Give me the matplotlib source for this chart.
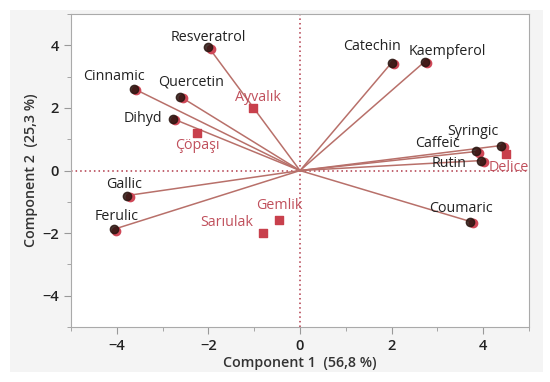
import matplotlib.pyplot as plt
from matplotlib.patches import Rectangle

plt.rcParams['font.family'] = ['Open Sans', 'DejaVu Sans']

# loadings (variables)
variables = ["Resveratrol", "Cinnamic", "Quercetin", "Dihyd", "Gallic", "Ferulic",
             "Catechin", "Kaempferol", "Syringic", "Caffeic", "Rutin", "Coumaric"]
var_x = [-2.0, -3.63, -2.61, -2.78, -3.78, -4.07, 2.0, 2.72, 4.39, 3.85, 3.96, 3.72]
var_y = [3.95, 2.62, 2.36, 1.66, -0.80, -1.88, 3.45, 3.48, 0.80, 0.61, 0.32, -1.63]

# scores (cultivars)
cultivars = ["Ayvalık", "Çöpaşı", "Sarıulak", "Gemlik", "Delice"]
cult_x = [-1.02, -2.24, -0.80, -0.46, 4.50]
cult_y = [2.00, 1.21, -1.98, -1.57, 0.54]

# label offsets in pixels (dx, dy, ha)
var_lab = {
    "Resveratrol": (0, 9, "center"), "Cinnamic": (-20, 12, "center"),
    "Quercetin": (11, 15, "center"), "Dihyd": (-11, 0, "right"),
    "Gallic": (-3, 11, "center"), "Ferulic": (3, 13, "center"),
    "Catechin": (-20, 16, "center"), "Kaempferol": (23, 10, "center"),
    "Syringic": (-28, 14, "center"), "Caffeic": (-39, 8, "center"),
    "Rutin": (-32, -3, "center"), "Coumaric": (-10, 13, "center"),
}
cult_lab = {
    "Ayvalık": (5, 10, "center"), "Çöpaşı": (0, -13, "center"),
    "Sarıulak": (-10, 10, "right"), "Gemlik": (0, 14, "center"),
    "Delice": (3, -14, "center"),
}

fig = plt.figure(figsize=(5.5, 3.82), dpi=100)
fig.patches.append(Rectangle((0.018, 0.025), 0.97, 0.95, transform=fig.transFigure,
                             facecolor="#f4f4f4", edgecolor="none", zorder=-10))
ax = fig.add_axes([0.129, 0.144, 0.833, 0.819])
ax.set_facecolor("white")

ax.axhline(0, color="#b03848", ls=(0, (1, 2)), lw=1.1, zorder=1)
ax.axvline(0, color="#b03848", ls=(0, (1, 2)), lw=1.1, zorder=1)

for name, x, y in zip(variables, var_x, var_y):
    ax.plot([0, x], [0, y], color="#b8706a", lw=1.1, zorder=2)
    ax.plot(x + 0.06, y - 0.05, "o", ms=6, color="#d04858", zorder=3)
    ax.plot(x, y, "o", ms=6, color="#2a1510", alpha=0.85, zorder=4)
    dx, dy, ha = var_lab[name]
    ax.annotate(name, (x, y), xytext=(dx, dy), textcoords="offset pixels",
                ha=ha, va="center", fontsize=10.3, color="#222222", zorder=5)

ax.scatter(cult_x, cult_y, marker="s", s=28, color="#c8404c", zorder=3)
for name, x, y in zip(cultivars, cult_x, cult_y):
    dx, dy, ha = cult_lab[name]
    ax.annotate(name, (x, y), xytext=(dx, dy), textcoords="offset pixels",
                ha=ha, va="center", fontsize=10.3, color="#c0505c", zorder=5)

ax.set_xlim(-5, 5)
ax.set_ylim(-5, 5)
ax.set_xticks([-4, -2, 0, 2, 4])
ax.set_yticks([-4, -2, 0, 2, 4])
ax.set_xticks([-5, -3, -1, 1, 3, 5], minor=True)
ax.set_yticks([-5, -3, -1, 1, 3, 5], minor=True)
ax.tick_params(which="both", color="#999999", labelsize=10.5, labelcolor="#222222")
ax.tick_params(which="major", length=5)
ax.tick_params(which="minor", length=3)
for lab in ax.get_xticklabels() + ax.get_yticklabels():
    lab.set_fontweight("semibold")
for s in ax.spines.values():
    s.set_color("#aaaaaa")

ax.set_xlabel("Component 1  (56,8 %)", fontsize=10.3, fontweight="semibold",
              color="#333333", labelpad=2)
ax.set_ylabel("Component 2  (25,3 %)", fontsize=10.3, fontweight="semibold",
              color="#333333", labelpad=3)

fig.savefig("out.png", dpi=100)
